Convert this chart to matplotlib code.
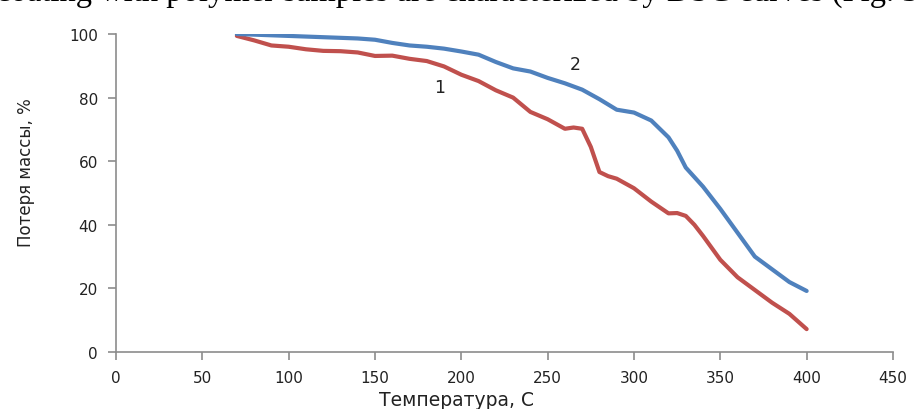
import matplotlib
matplotlib.use("Agg")
import matplotlib.pyplot as plt

# curve 1 (red): temperature, C and mass loss, %
temp1 = [70, 80, 90, 100, 110, 120, 130, 140, 150, 160, 170, 180, 190, 200, 210,
         220, 230, 240, 250, 260, 265, 270, 275, 280, 285, 290, 300, 310, 320,
         325, 330, 335, 340, 350, 360, 370, 380, 390, 400]
loss1 = [99.4, 98.0, 96.4, 96.0, 95.2, 94.7, 94.6, 94.2, 93.1, 93.2, 92.2, 91.5,
         89.8, 87.2, 85.2, 82.3, 80.0, 75.5, 73.2, 70.2, 70.6, 70.2, 64.5, 56.6,
         55.3, 54.5, 51.5, 47.3, 43.6, 43.7, 42.8, 40.0, 36.5, 29.0, 23.5, 19.5,
         15.5, 12.0, 7.2]

# curve 2 (blue)
temp2 = [70, 80, 90, 100, 110, 120, 130, 140, 150, 160, 170, 180, 190, 200, 210,
         220, 230, 240, 250, 260, 270, 280, 290, 300, 310, 320, 325, 330, 335,
         340, 350, 360, 370, 380, 390, 400]
loss2 = [100.0, 99.8, 99.6, 99.4, 99.2, 99.0, 98.8, 98.6, 98.2, 97.2, 96.4, 96.0,
         95.4, 94.5, 93.5, 91.2, 89.2, 88.2, 86.2, 84.5, 82.5, 79.5, 76.2, 75.3,
         72.8, 67.5, 63.3, 58.0, 55.0, 52.0, 45.0, 37.5, 30.0, 26.0, 22.0, 19.2]

xticks = [0, 50, 100, 150, 200, 250, 300, 350, 400, 450]
yticks = [0, 20, 40, 60, 80, 100]

fig = plt.figure(figsize=(9.17, 4.10), dpi=100)
ax = fig.add_axes([0.1265, 0.139, 0.8473, 0.7756])

ax.plot(temp1, loss1, color="#C0504D", lw=3, solid_joinstyle="round", solid_capstyle="round")
ax.plot(temp2, loss2, color="#4F81BD", lw=3, solid_joinstyle="round", solid_capstyle="round")

ax.text(187.6, 83.3, "1", fontsize=12.5, ha="center", va="center", color="#222222")
ax.text(266, 90.6, "2", fontsize=12.5, ha="center", va="center", color="#222222")

ax.set_xlim(0, 450)
ax.set_ylim(0, 100)
ax.set_xticks(xticks)
ax.set_yticks(yticks)
ax.spines["top"].set_visible(False)
ax.spines["right"].set_visible(False)
for s in ["left", "bottom"]:
    ax.spines[s].set_color("#8c8c8c")
    ax.spines[s].set_linewidth(1.2)
ax.tick_params(direction="out", length=6, width=1.2, color="#8c8c8c", labelsize=11,
               labelcolor="#222222", pad=7)

ax.set_xlabel("Температура, С", fontsize=13.5, color="#222222")
ax.xaxis.set_label_coords(0.4376, -0.12)
ax.set_ylabel("Потеря массы, %", fontsize=12, color="#222222")
ax.yaxis.set_label_coords(-0.104, 0.566)

# cut-off line of the document text above the chart
fig.text(-0.004, 1 - 1 / 410, "coating with polymer samples are characterized by DSC curves (Fig. 3",
         fontsize=23.5, family="Liberation Serif", ha="left", va="baseline", color="black")

fig.savefig("out.png", dpi=100)
